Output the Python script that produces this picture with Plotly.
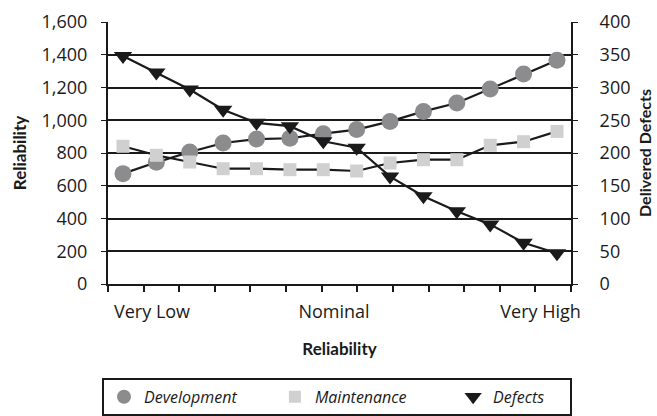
import plotly.graph_objects as go

# ---- data ----
points = list(range(14))
development = [674, 743, 806, 861, 885, 890, 918, 943, 993, 1054, 1105, 1191, 1282, 1366]
maintenance = [841, 786, 745, 704, 704, 698, 698, 690, 739, 759, 759, 847, 869, 932]
defects = [348, 323, 297, 266, 246, 241, 218, 208, 164, 134, 111, 91, 63, 47]
label_pos = [0.87, 6.32, 12.51]
label_text = ["Very Low", "Nominal", "Very High"]
boundary_ticks = list(range(14))
series_names = ["Development", "Maintenance", "Defects"]
legend_pad = [8, 10, 5]

FONT = "'Open Sans', Lato, sans-serif"
TITLE_FONT = "Lato, 'Liberation Sans Narrow', sans-serif"
INK = "#1a1a1a"
DEV_COLOR = "#8c8c8e"
MAINT_COLOR = "#d0d0d0"

fig = go.Figure()
fig.add_trace(go.Scatter(
    x=points, y=development, mode="lines+markers", showlegend=False,
    line=dict(color=INK, width=2.2),
    marker=dict(symbol="circle", size=17, color=DEV_COLOR, line=dict(width=0)),
))
fig.add_trace(go.Scatter(
    x=points, y=maintenance, mode="lines+markers", showlegend=False,
    line=dict(color=INK, width=2.2),
    marker=dict(symbol="square", size=13, color=MAINT_COLOR, line=dict(width=0)),
))
fig.add_trace(go.Scatter(
    x=points, y=defects, mode="lines+markers", yaxis="y2", showlegend=False,
    line=dict(color=INK, width=2.2),
    marker=dict(symbol="triangle-down", size=16, color=INK, line=dict(width=0)),
))
# legend-only entries (markers without lines, as in the reference)
legend_markers = [("circle", 14, DEV_COLOR), ("square", 12, MAINT_COLOR), ("triangle-down", 15, INK)]
for name, pad, (sym, sz, col) in zip(series_names, legend_pad, legend_markers):
    fig.add_trace(go.Scatter(
        x=[None], y=[None], mode="markers", name=name + "\u00a0" * pad,
        marker=dict(symbol=sym, size=sz, color=col, line=dict(width=0)),
        hoverinfo="skip",
    ))
# carrier for the tick-mark axis
fig.add_trace(go.Scatter(x=[], y=[], xaxis="x2", yaxis="y", showlegend=False, hoverinfo="skip"))

fig.update_layout(
    width=657, height=416,
    margin=dict(l=108, r=86, t=22, b=132, autoexpand=False),
    paper_bgcolor="white", plot_bgcolor="white",
    font=dict(family=FONT, size=18, color=INK),
    xaxis=dict(
        range=[-0.449, 13.42], tickmode="array", tickvals=label_pos, ticktext=label_text,
        ticks="", showgrid=False, zeroline=False, showline=False, automargin=False,
        tickfont=dict(size=18), ticklabelstandoff=15,
        title=dict(text="<b>Reliability</b>", font=dict(family=TITLE_FONT, size=17), standoff=21),
    ),
    xaxis2=dict(
        overlaying="x", range=[0, 13], tickmode="array", tickvals=boundary_ticks,
        ticks="outside", ticklen=6, tickwidth=1.5, tickcolor=INK,
        showticklabels=False, showgrid=False, zeroline=False,
        showline=True, linecolor=INK, linewidth=2, side="bottom", anchor="y",
    ),
    yaxis=dict(
        range=[0, 1600], dtick=200, tickformat=",", showgrid=True,
        gridcolor=INK, gridwidth=1.5, zeroline=False, automargin=False,
        showline=True, linecolor=INK, linewidth=2,
        ticks="outside", ticklen=5, tickcolor=INK, ticklabelstandoff=10,
        tickfont=dict(size=18),
        title=dict(text="<b>Reliability</b>", font=dict(family=TITLE_FONT, size=17), standoff=11),
    ),
    yaxis2=dict(
        overlaying="y", side="right", range=[0, 400], dtick=50, showgrid=False, zeroline=False,
        showline=True, linecolor=INK, linewidth=2, automargin=False,
        ticks="outside", ticklen=5, tickcolor=INK, ticklabelstandoff=18,
        tickfont=dict(size=18),
        title=dict(text="<b>Delivered Defects</b>", font=dict(family=TITLE_FONT, size=16), standoff=10),
    ),
    legend=dict(
        orientation="h", x=-0.013, xanchor="left", y=-0.358, yanchor="top",
        bordercolor=INK, borderwidth=2, bgcolor="white",
        font=dict(size=16, family=FONT, style="italic"),
        itemsizing="trace", itemclick=False,
    ),
    showlegend=True,
)

fig.write_html(
    "out.html",
    config={"displayModeBar": False},
    post_script="document.body.style.margin='0';document.body.style.overflow='hidden';",
)
